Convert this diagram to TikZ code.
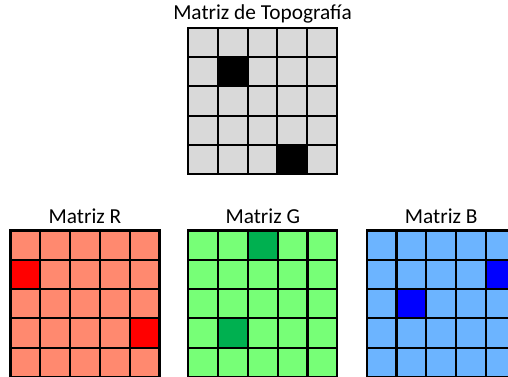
\documentclass[tikz,border=0pt]{standalone}
\usepackage{fontspec}
\setmainfont{Carlito}
\usepackage{tikz}
\usetikzlibrary{positioning}

\definecolor{gris}{RGB}{217,217,217}
\definecolor{rojoclaro}{RGB}{255,137,111}
\definecolor{verdeclaro}{RGB}{119,255,119}
\definecolor{verdeoscuro}{RGB}{0,176,80}
\definecolor{azulclaro}{RGB}{108,180,255}

\begin{document}
\begin{tikzpicture}[
    x=0.75pt, y=-0.75pt,
    celda/.style={draw=black, line width=1.6pt, minimum width=22.35pt, minimum height=22pt,
                  inner sep=0pt, outer sep=0pt},
    titulo/.style={font=\fontsize{16}{18}\selectfont, text depth=0pt, inner sep=0pt},
    % celdas oscuras
    t11/.style={fill=black}, t43/.style={fill=black},
    r10/.style={fill=red}, r34/.style={fill=red},
    g02/.style={fill=verdeoscuro}, g31/.style={fill=verdeoscuro},
    b14/.style={fill=blue}, b21/.style={fill=blue},
]
\useasboundingbox (0,0) rectangle (508,377);
\clip (0,0) rectangle (508,377);

% Matriz de topografia
\foreach \i in {0,...,4}
  \foreach \j in {0,...,4}
    \node[celda, fill=gris, t\i\j/.try] (t-\i-\j) at (202.9+29.8*\j, 42.35+29.3*\i) {};
\node[titulo, above=6pt of t-0-2.north] (tit-t) {Matriz de Topografía};

% Matriz R
\foreach \i in {0,...,4}
  \foreach \j in {0,...,4}
    \node[celda, fill=rojoclaro, r\i\j/.try] (r-\i-\j) at (25.4+29.8*\j, 245.15+29.3*\i) {};
\node[titulo, above=5pt of r-0-2.north] (tit-r) {Matriz R};

% Matriz G
\foreach \i in {0,...,4}
  \foreach \j in {0,...,4}
    \node[celda, fill=verdeclaro, g\i\j/.try] (g-\i-\j) at (203.2+29.8*\j, 245.15+29.3*\i) {};
\node[titulo, above=5pt of g-0-2.north] (tit-g) {Matriz G};

% Matriz B
\foreach \i in {0,...,4}
  \foreach \j in {0,...,4}
    \node[celda, fill=azulclaro, b\i\j/.try] (b-\i-\j) at (381.6+29.8*\j, 245.15+29.3*\i) {};
\node[titulo, above=5pt of b-0-2.north] (tit-b) {Matriz B};

\end{tikzpicture}
\end{document}
